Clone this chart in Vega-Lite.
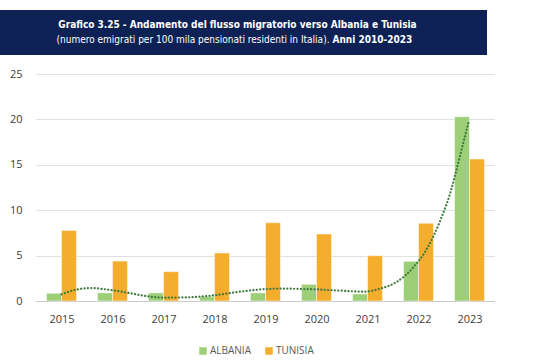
{
  "$schema": "https://vega.github.io/schema/vega-lite/v6.json",
  "padding": {"left": 0, "top": 10, "right": 0, "bottom": 0},
  "background": "white",
  "config": {"font": "Open Sans", "view": {"stroke": null}},
  "spacing": 10,
  "datasets": {
    "bars": [
      {"year": 2015, "country": "ALBANIA", "value": 0.85},
      {"year": 2016, "country": "ALBANIA", "value": 0.9},
      {"year": 2017, "country": "ALBANIA", "value": 0.9},
      {"year": 2018, "country": "ALBANIA", "value": 0.47},
      {"year": 2019, "country": "ALBANIA", "value": 0.9},
      {"year": 2020, "country": "ALBANIA", "value": 1.84},
      {"year": 2021, "country": "ALBANIA", "value": 0.77},
      {"year": 2022, "country": "ALBANIA", "value": 4.37},
      {"year": 2023, "country": "ALBANIA", "value": 20.3},
      {"year": 2015, "country": "TUNISIA", "value": 7.78},
      {"year": 2016, "country": "TUNISIA", "value": 4.4},
      {"year": 2017, "country": "TUNISIA", "value": 3.23},
      {"year": 2018, "country": "TUNISIA", "value": 5.29},
      {"year": 2019, "country": "TUNISIA", "value": 8.62},
      {"year": 2020, "country": "TUNISIA", "value": 7.38},
      {"year": 2021, "country": "TUNISIA", "value": 4.99},
      {"year": 2022, "country": "TUNISIA", "value": 8.56},
      {"year": 2023, "country": "TUNISIA", "value": 15.64}
    ],
    "trend": [
      {"t": 2015.0, "v": 0.73},
      {"t": 2015.31, "v": 1.28},
      {"t": 2015.57, "v": 1.43},
      {"t": 2015.96, "v": 1.21},
      {"t": 2016.29, "v": 0.92},
      {"t": 2016.61, "v": 0.59},
      {"t": 2017.0, "v": 0.37},
      {"t": 2017.46, "v": 0.4},
      {"t": 2017.98, "v": 0.62},
      {"t": 2018.5, "v": 1.03},
      {"t": 2019.03, "v": 1.32},
      {"t": 2019.29, "v": 1.36},
      {"t": 2019.95, "v": 1.29},
      {"t": 2020.47, "v": 1.14},
      {"t": 2020.93, "v": 1.03},
      {"t": 2021.25, "v": 1.36},
      {"t": 2021.58, "v": 2.13},
      {"t": 2021.91, "v": 3.78},
      {"t": 2022.17, "v": 5.8},
      {"t": 2022.43, "v": 8.92},
      {"t": 2022.63, "v": 12.04},
      {"t": 2022.76, "v": 14.8},
      {"t": 2022.89, "v": 17.7},
      {"t": 2022.99, "v": 19.9}
    ],
    "title": [
      {"line": 1, "part": "a", "text": "Grafico 3.25 - Andamento del flusso migratorio verso Albania e Tunisia"},
      {"line": 2, "part": "b", "text": "(numero emigrati per 100 mila pensionati residenti in Italia)."},
      {"line": 2, "part": "c", "text": "Anni 2010-2023"}
    ]
  },
  "vconcat": [
    {
      "width": 487,
      "height": 45,
      "view": {"fill": "#0d2155", "stroke": null},
      "data": {"name": "title"},
      "encoding": {
        "y": {"field": "line", "type": "ordinal", "axis": null, "scale": {"domain": [1, 2], "padding": 1.0}},
        "text": {"field": "text"}
      },
      "layer": [
        {
          "transform": [{"filter": "datum.part == 'a'"}],
          "mark": {"type": "text", "font": "DejaVu Sans Condensed, Roboto", "fontWeight": "bold", "fontSize": 10, "color": "white", "dx": -6}
        },
        {
          "transform": [{"filter": "datum.part == 'b'"}],
          "mark": {"type": "text", "font": "DejaVu Sans Condensed, Roboto", "fontSize": 10, "color": "white", "align": "right", "dx": 86}
        },
        {
          "transform": [{"filter": "datum.part == 'c'"}],
          "mark": {"type": "text", "font": "DejaVu Sans Condensed, Roboto", "fontWeight": "bold", "fontSize": 10, "color": "white", "align": "left", "dx": 89}
        }
      ]
    },
    {
      "width": 495,
      "height": 236,
      "encoding": {
        "x": {
          "type": "quantitative",
          "scale": {"domain": [2014.5, 2023.5], "range": [36, 495], "padding": 0, "nice": false, "zero": false},
          "axis": {"values": [2015, 2016, 2017, 2018, 2019, 2020, 2021, 2022, 2023], "format": "d", "title": null, "grid": false, "ticks": false, "domainColor": "#c8c8c8", "labelFontSize": 11, "labelColor": "#404040", "labelPadding": 12, "labelFlush": false}
        }
      },
      "layer": [
        {
          "data": {"name": "bars"},
          "transform": [{"filter": "datum.country == 'ALBANIA'"}],
          "mark": {"type": "bar", "width": 15, "xOffset": -7.5, "stroke": "white", "strokeWidth": 0.5},
          "encoding": {
            "x": {"field": "year"},
            "y": {
              "field": "value", "type": "quantitative", "title": null,
              "scale": {"domain": [0, 25], "padding": 0},
              "axis": {"values": [0, 5, 10, 15, 20, 25], "domain": false, "ticks": false, "gridColor": "#e0e0e0", "labelFontSize": 11, "labelColor": "#404040", "labelPadding": -22}
            },
            "color": {
              "field": "country", "type": "nominal",
              "scale": {"domain": ["ALBANIA", "TUNISIA"], "range": ["#9ccf78", "#f5ad2e"]},
              "legend": {"orient": "none", "legendX": 198, "legendY": 336, "direction": "horizontal", "title": null, "symbolType": "square", "symbolSize": 56, "symbolStrokeWidth": 0, "labelOffset": 2, "labelFontSize": 10, "labelColor": "#595959", "columnPadding": 13}
            }
          }
        },
        {
          "data": {"name": "bars"},
          "transform": [{"filter": "datum.country == 'TUNISIA'"}],
          "mark": {"type": "bar", "width": 15, "xOffset": 7.5, "stroke": "white", "strokeWidth": 0.5},
          "encoding": {
            "x": {"field": "year"},
            "y": {"field": "value", "type": "quantitative"},
            "color": {"field": "country", "type": "nominal"}
          }
        },
        {
          "data": {"name": "trend"},
          "mark": {"type": "line", "interpolate": "monotone", "color": "#3d7a3d", "strokeWidth": 2.2, "strokeDash": [0.1, 3.3], "strokeCap": "round"},
          "encoding": {
            "x": {"field": "t"},
            "y": {"field": "v", "type": "quantitative"}
          }
        }
      ]
    }
  ]
}
